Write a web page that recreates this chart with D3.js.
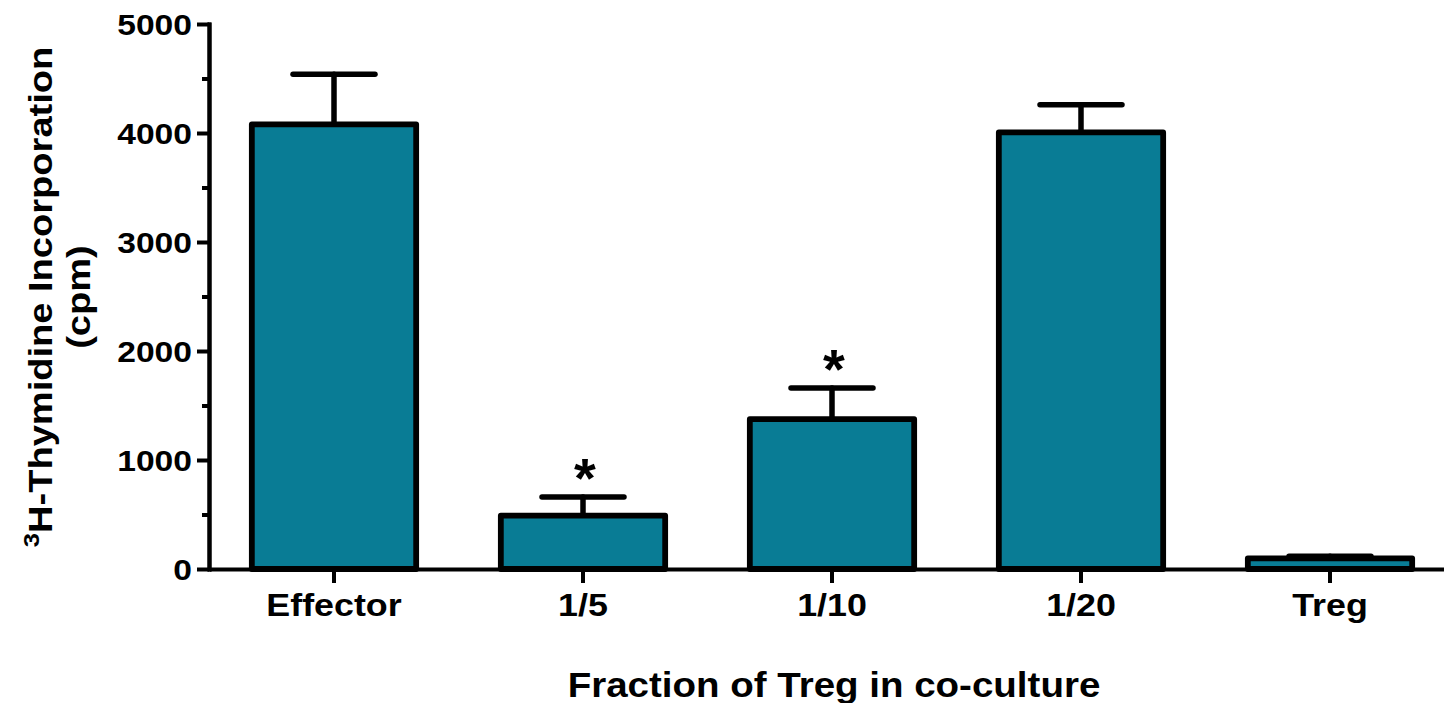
<!DOCTYPE html>
<html>
<head>
<meta charset="utf-8">
<script src="https://cdn.jsdelivr.net/npm/d3@7"></script>
<style>
  html, body { margin: 0; padding: 0; background: #ffffff; }
  svg { display: block; }
  text { font-family: "Liberation Sans", Arial, Helvetica, sans-serif; font-weight: bold; fill: #000; }
</style>
</head>
<body>
<svg id="chart" width="1444" height="703"></svg>
<script>
// Proliferation of effector cells co-cultured with Treg (mean ± SEM)
const categories = ["Effector", "1/5", "1/10", "1/20", "Treg"];
const means = [4080, 490, 1375, 4005, 98];
const sems = [460, 170, 285, 255, 20];
const significant = [false, true, true, false, false];
const yTickValues = [0, 1000, 2000, 3000, 4000, 5000];
const yMinorTickValues = [500, 1500, 2500, 3500, 4500];
const yTitle = ["H-Thymidine Incorporation", "(cpm)"];
const yTitleSup = "3";
const xTitle = "Fraction of Treg in co-culture";

const barFill = "#097c95";
const stretch = 1.12; // glyphs are drawn slightly wide

const svg = d3.select("#chart");

const y = d3.scaleLinear().domain([0, 5000]).range([569, 24]);
const x = d3.scaleBand()
  .domain(categories)
  .range([209.5, 1454.5])
  .paddingInner(0.34)
  .paddingOuter(0.17);

const rows = categories.map((c, i) => ({ c, mean: means[i], sem: sems[i], sig: significant[i] }));

function widen(sel, k) {
  sel.each(function () {
    const w = this.getComputedTextLength();
    this.setAttribute("textLength", w * k);
    this.setAttribute("lengthAdjust", "spacingAndGlyphs");
  });
}

// error bars (upper half only)
const capHalf = 41;
const err = svg.append("g")
  .attr("stroke", "#000")
  .attr("stroke-width", 5.5)
  .attr("stroke-linecap", "round");
err.selectAll("line.v").data(rows).join("line")
  .attr("class", "v")
  .attr("x1", d => x(d.c) + x.bandwidth() / 2)
  .attr("x2", d => x(d.c) + x.bandwidth() / 2)
  .attr("y1", d => y(d.mean))
  .attr("y2", d => y(d.mean + d.sem));
err.selectAll("line.cap").data(rows).join("line")
  .attr("class", "cap")
  .attr("x1", d => x(d.c) + x.bandwidth() / 2 - capHalf)
  .attr("x2", d => x(d.c) + x.bandwidth() / 2 + capHalf)
  .attr("y1", d => y(d.mean + d.sem))
  .attr("y2", d => y(d.mean + d.sem));

// bars
svg.append("g").selectAll("rect").data(rows).join("rect")
  .attr("x", d => x(d.c))
  .attr("width", x.bandwidth())
  .attr("y", d => y(d.mean))
  .attr("height", d => y(0) - y(d.mean))
  .attr("fill", barFill)
  .attr("stroke", "#000")
  .attr("stroke-width", 5.8)
  .attr("stroke-linejoin", "round");

// significance markers
svg.append("g").selectAll("text").data(rows.filter(d => d.sig)).join("text")
  .attr("x", d => x(d.c) + x.bandwidth() / 2 + 2)
  .attr("y", d => y(d.mean + d.sem) - 30)
  .attr("dy", 30)
  .attr("text-anchor", "middle")
  .style("font-size", "56px")
  .text("*");

// y axis
const yAxisG = svg.append("g").attr("transform", "translate(209,0)");
yAxisG.call(d3.axisLeft(y).tickValues(yMinorTickValues).tickSize(7).tickSizeOuter(0).tickFormat(""));
const yMajor = svg.append("g").attr("transform", "translate(209,0)")
  .call(d3.axisLeft(y).tickValues(yTickValues).tickSize(12).tickSizeOuter(0).tickPadding(5).tickFormat(d3.format("d")));
[yAxisG, yMajor].forEach(g => {
  g.selectAll("path, line").attr("stroke", "#000").attr("stroke-width", 4);
  g.select(".domain").attr("stroke-linecap", "square");
});
yMajor.selectAll("text")
  .attr("x", -17)
  .attr("dy", "0.36em")
  .style("font-size", "30px")
  .attr("fill", "#000");
widen(yMajor.selectAll("text"), stretch);

// x axis
const xAxisG = svg.append("g").attr("transform", `translate(0,${y(0)})`)
  .call(d3.axisBottom(x).tickSize(14).tickSizeOuter(0));
xAxisG.selectAll("path, line").attr("stroke", "#000").attr("stroke-width", 4);
xAxisG.selectAll("text")
  .attr("y", 47)
  .attr("dy", 0)
  .style("font-size", "32px")
  .attr("fill", "#000");
widen(xAxisG.selectAll("text"), stretch);

// axis titles
const xt = svg.append("text")
  .attr("x", 834)
  .attr("y", 697)
  .attr("text-anchor", "middle")
  .style("font-size", "35px")
  .text(xTitle);
widen(xt, 1.1);

const yTitleCenter = 297;
const yt = svg.append("g")
  .attr("transform", `translate(52,${yTitleCenter}) rotate(-90) scale(${stretch},1)`);
const line1 = yt.append("text")
  .attr("x", 0)
  .attr("y", 0)
  .attr("text-anchor", "middle")
  .style("font-size", "34px");
line1.append("tspan")
  .attr("dy", -13)
  .style("font-size", "23px")
  .text(yTitleSup);
line1.append("tspan")
  .attr("dy", 13)
  .text(yTitle[0]);
yt.append("text")
  .attr("x", 0)
  .attr("y", 38)
  .attr("text-anchor", "middle")
  .style("font-size", "34px")
  .text(yTitle[1]);
</script>
</body>
</html>
